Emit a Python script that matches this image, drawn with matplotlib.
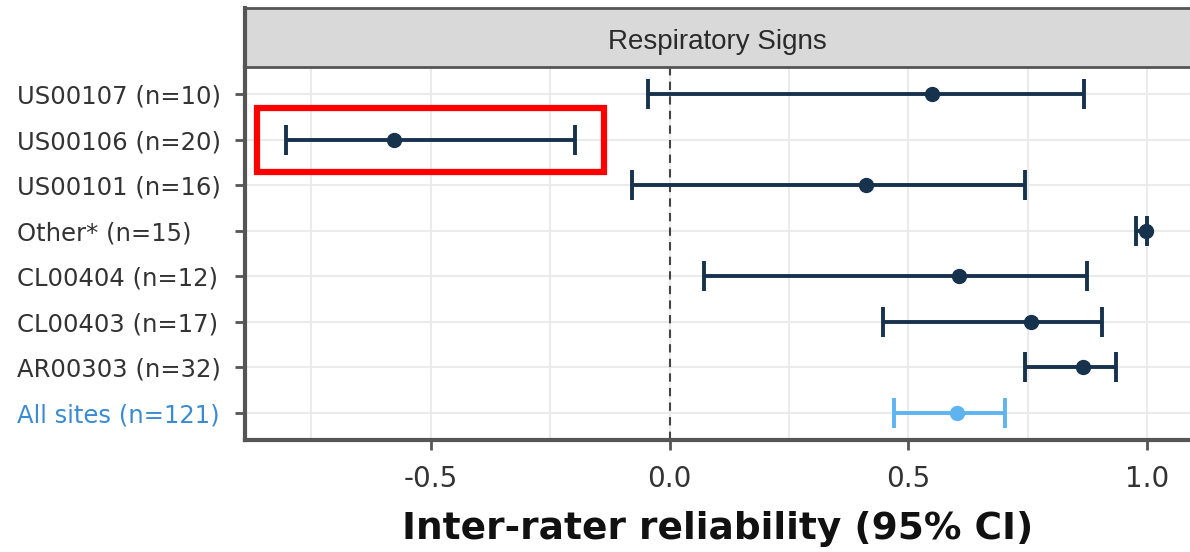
import matplotlib
matplotlib.use("Agg")
import matplotlib.pyplot as plt
from matplotlib.patches import Rectangle

sites = ["All sites (n=121)", "AR00303 (n=32)", "CL00403 (n=17)", "CL00404 (n=12)",
         "Other* (n=15)", "US00101 (n=16)", "US00106 (n=20)", "US00107 (n=10)"]
estimate = [0.603, 0.866, 0.757, 0.607, 0.998, 0.412, -0.577, 0.55]
lower = [0.471, 0.745, 0.448, 0.073, 0.977, -0.079, -0.803, -0.046]
upper = [0.703, 0.935, 0.906, 0.874, 1.0, 0.745, -0.197, 0.868]
facet_title = "Respiratory Signs"
x_label = "Inter-rater reliability (95% CI)"
x_ticks = [-0.5, 0.0, 0.5, 1.0]
x_tick_labels = ["-0.5", "0.0", "0.5", "1.0"]

navy = "#17324D"
light = "#5DB4F0"
label_blue = "#3A8BD0"

fig = plt.figure(figsize=(11.9, 5.52), dpi=100)
ax = fig.add_axes([0.2059, 0.2029, 0.7941, 0.6757])

ys = list(range(1, len(sites) + 1))
for i, (y, e, lo, hi) in enumerate(zip(ys, estimate, lower, upper)):
    c = light if i == 0 else navy
    ax.errorbar([e], [y], xerr=[[e - lo], [hi - e]], fmt="o", color=c, ecolor=c,
                elinewidth=2.8, capsize=11, capthick=2.8, markersize=10, zorder=3)

ax.axvline(0, color="#444444", linestyle=(0, (4, 3)), linewidth=1.5, zorder=2)

ax.set_xlim(-0.889, 1.09)
ax.set_ylim(0.4, 8.6)
ax.set_yticks(ys)
ax.set_yticklabels(sites, fontsize=17.5, color="#333333", family="DejaVu Sans")
for lab in ax.get_yticklabels():
    lab.set_horizontalalignment("left")
ax.get_yticklabels()[0].set_color(label_blue)
ax.set_xticks(x_ticks)
ax.set_xticklabels(x_tick_labels, fontsize=20, color="#333333", family="DejaVu Sans")
ax.set_xticks([-0.75, -0.25, 0.25, 0.75], minor=True)
ax.tick_params(axis="x", which="minor", length=0)
ax.tick_params(axis="both", which="major", length=7, width=2, color="#555555")
ax.tick_params(axis="y", which="major", pad=157)
ax.tick_params(axis="x", which="major", pad=11)
ax.grid(True, which="both", color="#EBEBEB", linewidth=1.5, zorder=0)
ax.set_axisbelow(True)
for s in ["top", "right"]:
    ax.spines[s].set_visible(False)
for s in ["left", "bottom"]:
    ax.spines[s].set_color("#555555")
    ax.spines[s].set_linewidth(3)

ax.set_xlabel(x_label, fontsize=27, fontweight="bold", color="#111111", labelpad=13,
              family="DejaVu Sans")

# facet strip
strip = fig.add_axes([0.2059, 0.8786, 0.7941, 0.107])
strip.set_facecolor("#D9D9D9")
strip.set_xticks([])
strip.set_yticks([])
for s in strip.spines.values():
    s.set_color("#555555")
    s.set_linewidth(2)
strip.spines["right"].set_visible(False)
strip.spines["left"].set_linewidth(3)
strip.text(0.5, 0.42, facet_title, transform=strip.transAxes, ha="center", va="center",
           fontsize=20, color="#2A2A2A", family="Liberation Sans")

# red highlight box
ax.add_patch(Rectangle((-0.864, 6.29), 0.726, 1.41, fill=False, edgecolor="#FF0000",
                       linewidth=4.5, zorder=5, clip_on=False))

fig.savefig("out.png", dpi=100)
